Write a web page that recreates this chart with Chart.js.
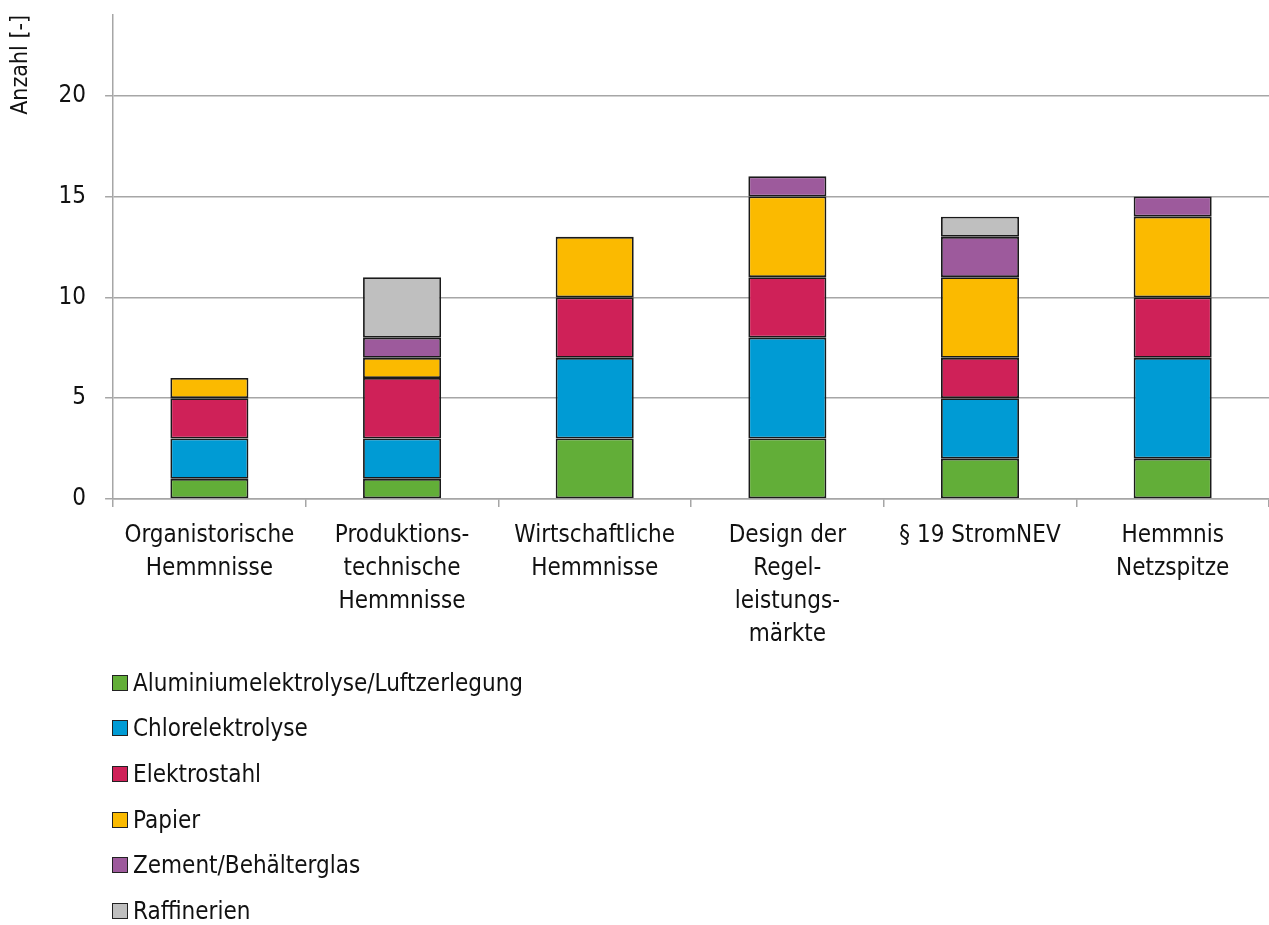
<!DOCTYPE html>
<html lang="de">
<head>
<meta charset="utf-8">
<title>Hemmnisse nach Branche</title>
<script src="https://cdn.jsdelivr.net/npm/chart.js@4/dist/chart.umd.min.js"></script>
<style>
    html, body { margin: 0; padding: 0; background: #fff; }
    body { width: 1269px; height: 925px; position: relative; overflow: hidden; font-family: "DejaVu Sans Condensed", sans-serif; }
    #wrap { position: absolute; left: 0; top: 0; width: 1269px; height: 663px; }
    #legend { position: absolute; left: 112px; top: 660px; margin: 0; padding: 0; list-style: none; }
    #legend li { height: 45.6px; display: flex; align-items: center; font-size: 24px; color: #111; }
    #legend span.box { width: 14px; height: 14px; border: 1px solid #222; margin-right: 5px; display: inline-block; }
</style>
</head>
<body>
<div id="wrap"><canvas id="chart"></canvas></div>
<ul id="legend"></ul>
<script>
const categories = [
    ["Organistorische", "Hemmnisse"],
    ["Produktions-", "technische", "Hemmnisse"],
    ["Wirtschaftliche", "Hemmnisse"],
    ["Design der", "Regel-", "leistungs-", "märkte"],
    ["§ 19 StromNEV"],
    ["Hemmnis", "Netzspitze"]
];

const aluminium = [1, 1, 3, 3, 2, 2];
const chlor = [2, 2, 4, 5, 3, 5];
const elektrostahl = [2, 3, 3, 3, 2, 3];
const papier = [1, 1, 3, 4, 4, 4];
const zement = [0, 1, 0, 1, 2, 1];
const raffinerien = [0, 3, 0, 0, 1, 0];

const seriesNames = [
    "Aluminiumelektrolyse/Luftzerlegung",
    "Chlorelektrolyse",
    "Elektrostahl",
    "Papier",
    "Zement/Behälterglas",
    "Raffinerien"
];
const seriesColors = ["#62ae38", "#009bd4", "#cf2158", "#fbba00", "#9d5a9c", "#bfbfbf"];
const seriesValues = [aluminium, chlor, elektrostahl, papier, zement, raffinerien];

const yMax = 24;
const gridColor = "#a6a6a6";
const fontFamily = "'DejaVu Sans Condensed', sans-serif";

const datasets = seriesNames.map(function (name, i) {
    return {
        label: name,
        data: seriesValues[i],
        backgroundColor: seriesColors[i],
        borderColor: "#1a1a1a",
        borderWidth: 1.8,
        borderSkipped: false,
        barPercentage: 0.405,
        categoryPercentage: 1
    };
});

const chart = new Chart(document.getElementById("chart"), {
    type: "bar",
    data: { labels: categories, datasets: datasets },
    options: {
        responsive: true,
        maintainAspectRatio: false,
        animation: false,
        layout: { padding: { top: 15, right: 0, bottom: 0, left: 0 } },
        plugins: {
            legend: { display: false },
            tooltip: { enabled: false }
        },
        scales: {
            x: {
                stacked: true,
                grid: { drawOnChartArea: false, drawTicks: true, tickLength: 8, color: gridColor, lineWidth: 1.5 },
                border: { color: gridColor, width: 1.5 },
                ticks: {
                    color: "#111",
                    font: { family: fontFamily, size: 24, lineHeight: 1.375 },
                    maxRotation: 0,
                    autoSkip: false,
                    padding: 12
                }
            },
            y: {
                stacked: true,
                min: 0,
                max: yMax,
                afterFit: function (scale) {
                    // the hidden top label should not push the plot down
                    scale.paddingTop = 0;
                },
                grid: {
                    color: function (ctx) {
                        return ctx.tick && ctx.tick.value === yMax ? "rgba(0,0,0,0)" : gridColor;
                    },
                    lineWidth: 1.5,
                    tickLength: 8
                },
                border: { color: gridColor, width: 1.5 },
                ticks: {
                    stepSize: 5,
                    color: "#111",
                    font: { family: fontFamily, size: 24 },
                    padding: 19,
                    callback: function (value) {
                        return value === yMax ? "" : value;
                    }
                },
                title: {
                    display: true,
                    text: "Anzahl [-]",
                    align: "end",
                    color: "#111",
                    font: { family: fontFamily, size: 23, lineHeight: 1.2 },
                    padding: { top: 7, bottom: 5 }
                }
            }
        }
    }
});

const legend = document.getElementById("legend");
chart.data.datasets.forEach(function (ds) {
    const li = document.createElement("li");
    const box = document.createElement("span");
    box.className = "box";
    box.style.background = ds.backgroundColor;
    li.appendChild(box);
    li.appendChild(document.createTextNode(ds.label));
    legend.appendChild(li);
});
</script>
</body>
</html>
